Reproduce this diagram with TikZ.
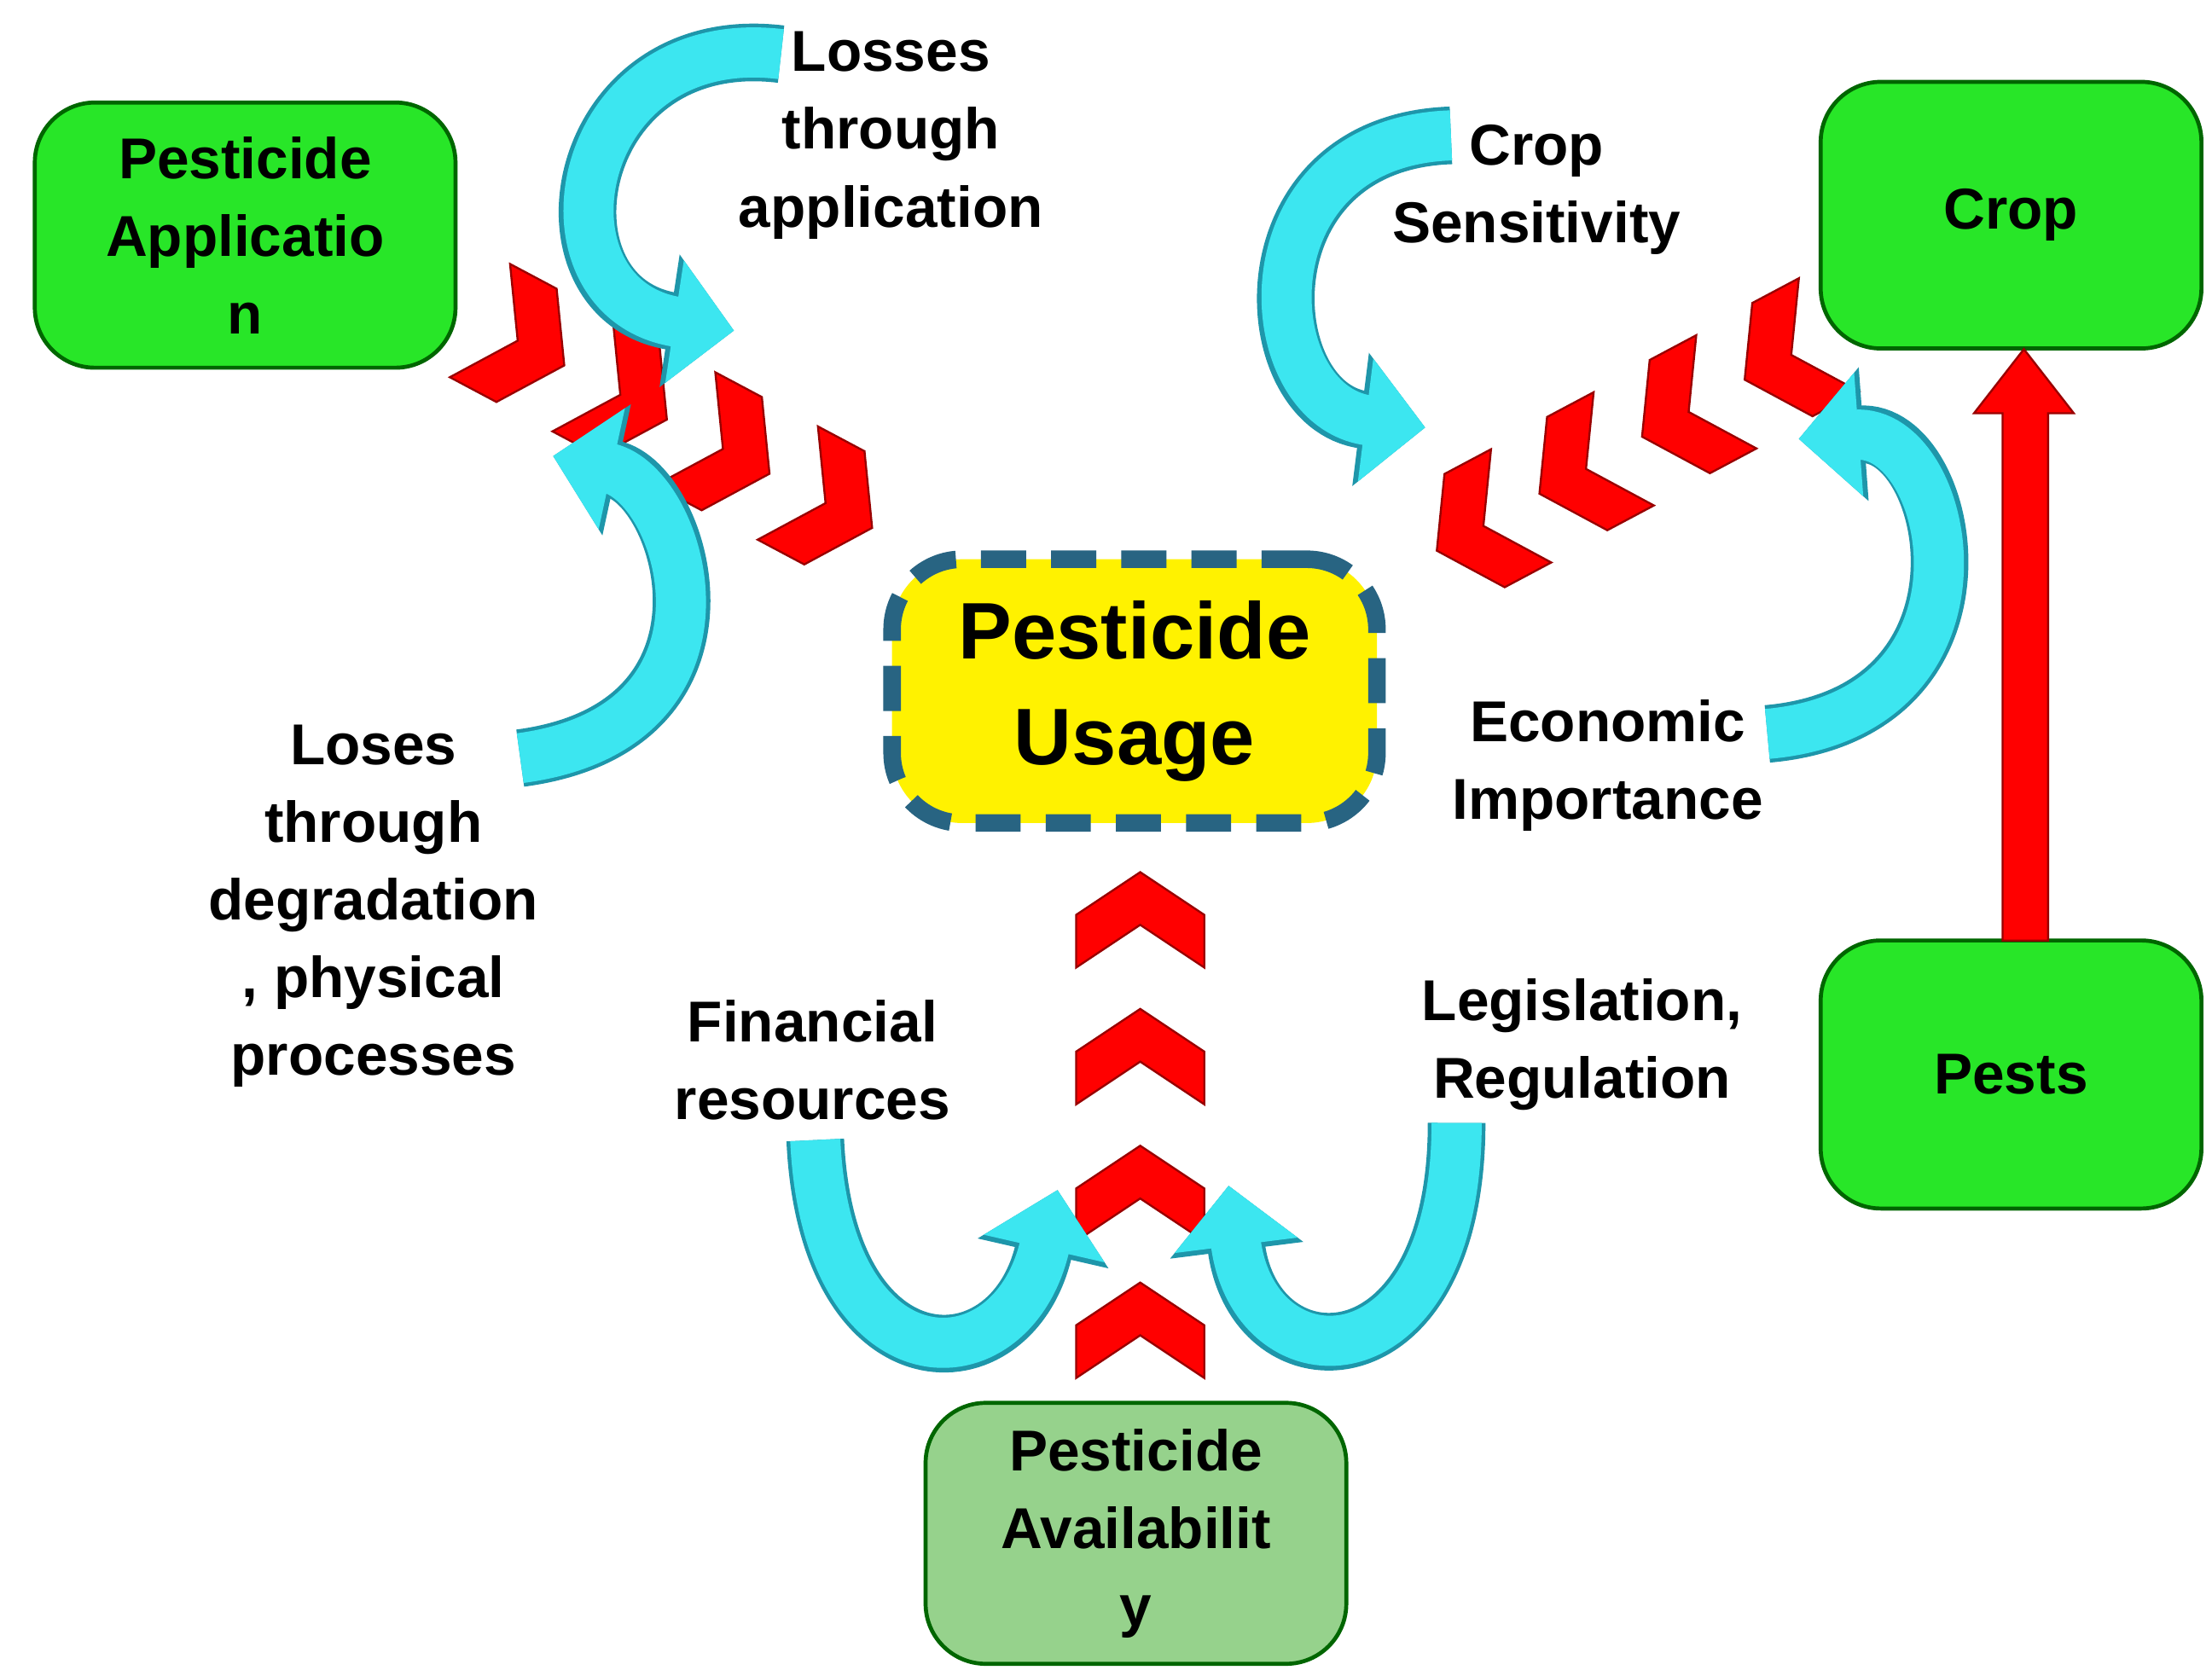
\documentclass[tikz,border=0pt]{standalone}
\usepackage{fontspec}
\setmainfont{Liberation Sans}
\usetikzlibrary{arrows.meta}
\definecolor{cyfill}{RGB}{60,230,240}
\definecolor{cyline}{RGB}{30,150,170}
\definecolor{gfill}{RGB}{40,230,40}
\definecolor{gpale}{RGB}{150,210,140}
\definecolor{ublue}{RGB}{40,100,130}
\begin{document}
\begin{tikzpicture}[x=0.01cm,y=-0.01cm,
  gbox/.style={draw=green!40!black,line width=0.8pt,fill=gfill,rounded corners=12pt,align=center,font=\bfseries\fontsize{11.5}{15.5}\selectfont},
  lbl/.style={align=center,font=\bfseries\fontsize{11.5}{15.5}\selectfont},
  chev/.style={fill=red,draw=red!60!black,line width=0.4pt},
  cyarr/.style={line width=10pt,draw=cyfill,-{Triangle[length=12pt,width=24pt]},
    preaction={draw=cyline,line width=11.5pt,-{Triangle[length=13pt,width=26pt]}}}]
\useasboundingbox (0,0) rectangle (1552,1176);
\fill[white] (0,0) rectangle (1552,1176);
\node[gbox,minimum width=2.95cm,minimum height=1.86cm] (app) at (172,165) {Pesticide\\Applicatio\\n};
\node[gbox,minimum width=2.67cm,minimum height=1.87cm] (crop) at (1411,151) {Crop};
\node[gbox,minimum width=2.67cm,minimum height=1.88cm] (pests) at (1411,754) {Pests};
\node[gbox,fill=gpale,minimum width=2.95cm,minimum height=1.83cm] (avail) at (797,1076) {Pesticide\\Availabilit\\y};
\node[draw=ublue,dash pattern=on 9pt off 5pt,line width=3.5pt,fill=yellow,rounded corners=14pt,minimum width=3.4cm,minimum height=1.85cm,align=center,font=\bfseries\fontsize{16}{21}\selectfont] (use) at (796,485) {Pesticide\\Usage};
% chevrons
\newcommand{\chevron}[3]{\fill[chev,rotate around={#3:(#1,#2)}] (#1-32,#2-45) -- (#1+5,#2-45) -- (#1+35,#2) -- (#1+5,#2+45) -- (#1-32,#2+45) -- (#1-2,#2) -- cycle;}
\foreach \i in {0,1,2,3} {\chevron{365+72*\i}{240+38*\i}{-28}}
\foreach \i in {0,1,2,3} {\chevron{1255-72*\i}{250+40*\i}{-152}}
\foreach \i in {0,1,2,3} {\chevron{800}{935-96*\i}{90}}
% red arrow
\fill[chev] (1405,660) -- (1405,290) -- (1385,290) -- (1420,245) -- (1455,290) -- (1437,290) -- (1437,660) -- cycle;
% cyan arrows
\draw[cyarr] (548,38) .. controls (400,20) and (370,210) .. (515,232);
\draw[cyarr] (365,532) .. controls (530,510) and (480,340) .. (388,320);
\draw[cyarr] (1018,95) .. controls (870,100) and (880,285) .. (1000,300);
\draw[cyarr] (1240,515) .. controls (1410,500) and (1370,300) .. (1262,308);
\draw[cyarr] (572,800) .. controls (580,975) and (710,975) .. (742,835);
\draw[cyarr] (1022,788) .. controls (1022,975) and (880,975) .. (862,832);
% labels
\node[lbl] (l1) at (625,95) {Losses\\through\\application};
\node[lbl] (l2) at (1078,133) {Crop\\Sensitivity};
\node[lbl] (l3) at (262,636) {Loses\\through\\degradation\\, physical\\processes};
\node[lbl] (l4) at (1128,537) {Economic\\Importance};
\node[lbl] (l5) at (570,744) {Financial\\resources};
\node[lbl] (l6) at (1110,733) {Legislation,\\Regulation};
\end{tikzpicture}
\end{document}
